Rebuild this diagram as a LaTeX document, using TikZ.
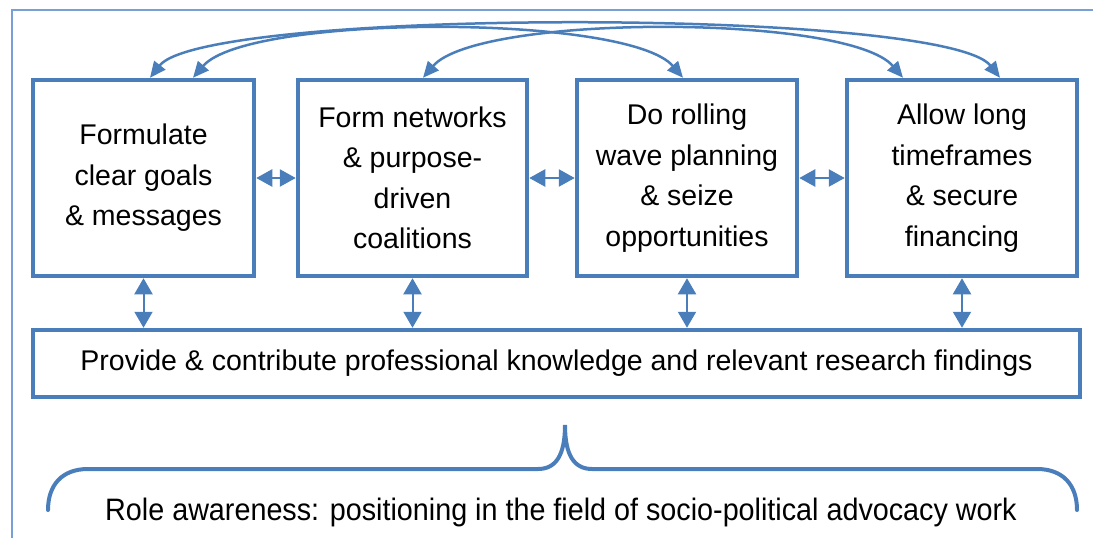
\documentclass[tikz,border=0pt]{standalone}
\usepackage{fontspec}
\setmainfont{Liberation Sans}
\usetikzlibrary{arrows.meta,calc}
\definecolor{boxblue}{RGB}{74,126,187}
\definecolor{frameblue}{RGB}{120,160,215}
\begin{document}
\begin{tikzpicture}[x=1pt,y=-1pt,
  stepbox/.style={draw=boxblue, line width=4.5pt, fill=white, align=center,
    minimum height=196pt, inner sep=0pt,
    font=\fontsize{28.5}{40.5}\selectfont},
  dbl/.style={boxblue, line width=2.5pt, {Triangle[length=16pt,width=17pt]}-{Triangle[length=16pt,width=17pt]}},
  vdbl/.style={boxblue, line width=2pt, {Triangle[length=16pt,width=18pt]}-{Triangle[length=16pt,width=18pt]}},
  arc/.style={boxblue, line width=2.5pt, {Triangle[length=16pt,width=14pt]}-{Triangle[length=16pt,width=14pt]}},
  brace/.style={boxblue, line width=4pt, line cap=round}]
\useasboundingbox (0,0) rectangle (1093,538);
\draw[frameblue, line width=1.5pt] (12,540) -- (12,10) -- (1095,10);

\node[stepbox, minimum width=221pt] (b1) at (143.5,178) {Formulate\\clear goals\\\& messages};
\node[stepbox, minimum width=229pt] (b2) at (412.5,178) {Form networks\\\& purpose-\\driven\\coalitions};
\node[stepbox, minimum width=220pt] (b3) at (687,178) {Do rolling\\wave planning\\\& seize\\opportunities};
\node[stepbox, minimum width=230pt] (b4) at (962,178) {Allow long\\timeframes\\\& secure\\financing};
\node[draw=boxblue, line width=4.5pt, minimum width=1047pt, minimum height=67pt, inner sep=0pt,
  font=\fontsize{28.5}{32}\selectfont] (kb) at (556.5,363.5)
  {Provide \& contribute professional knowledge and relevant research findings};

\draw[dbl] (b1.east) -- (b2.west);
\draw[dbl] (b2.east) -- (b3.west);
\draw[dbl] (b3.east) -- (b4.west);

\foreach \b in {b1,b2,b3,b4}
  \draw[vdbl] (\b.south) -- (\b.south |- kb.north);

\coordinate (a1) at ([xshift=6.5pt]b1.north);
\coordinate (a2) at ([xshift=49.5pt]b1.north);
\coordinate (a3) at ([xshift=10.5pt]b2.north);
\coordinate (a4) at ([xshift=-4pt]b3.north);
\coordinate (a5) at ([xshift=-59pt]b4.north);
\coordinate (a6) at ([xshift=38pt]b4.north);

\draw[arc] (a1) .. controls ($(a1)+(55,-70)$) and ($(a6)+(-55,-70)$) .. (a6);
\draw[arc] (a2) .. controls ($(a2)+(55,-64)$) and ($(a4)+(-55,-64)$) .. (a4);
\draw[arc] (a3) .. controls ($(a3)+(55,-64)$) and ($(a5)+(-55,-64)$) .. (a5);

\draw[brace] (48,510) .. controls (48,485) and (62,469) .. (88,469)
  -- (538,469) .. controls (556,469) and (565,455) .. (565,425)
  .. controls (565,455) and (574,469) .. (592,469)
  -- (1037,469) .. controls (1063,469) and (1077,485) .. (1077,510);

\node[font=\fontsize{31}{34}\selectfont, inner sep=0pt, xscale=0.927] (ra) at (561,512)
  {Role awareness: positioning in the field of socio-political advocacy work};
\end{tikzpicture}
\end{document}
